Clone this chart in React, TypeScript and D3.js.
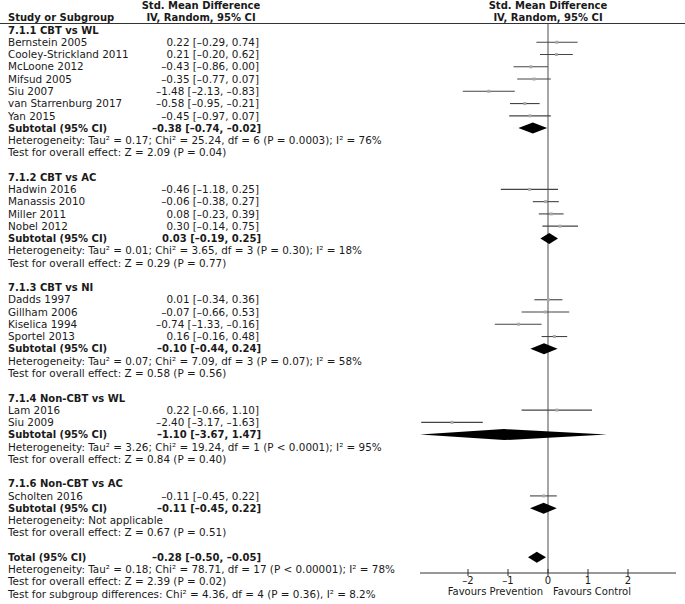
import React from "react";
import * as d3 from "d3";

const groupLabels = [
  "7.1.1 CBT vs WL",
  "7.1.2 CBT vs AC",
  "7.1.3 CBT vs NI",
  "7.1.4 Non-CBT vs WL",
  "7.1.6 Non-CBT vs AC",
];

const studyNames = [
  "Bernstein 2005", "Cooley-Strickland 2011", "McLoone 2012", "Mifsud 2005", "Siu 2007", "van Starrenburg 2017", "Yan 2015",
  "Hadwin 2016", "Manassis 2010", "Miller 2011", "Nobel 2012",
  "Dadds 1997", "Gillham 2006", "Kiselica 1994", "Sportel 2013",
  "Lam 2016", "Siu 2009",
  "Scholten 2016",
];
const studyGroup = [0, 0, 0, 0, 0, 0, 0, 1, 1, 1, 1, 2, 2, 2, 2, 3, 3, 4];
const studySmd = [0.22, 0.21, -0.43, -0.35, -1.48, -0.58, -0.45, -0.46, -0.06, 0.08, 0.30, 0.01, -0.07, -0.74, 0.16, 0.22, -2.40, -0.11];
const studyLow = [-0.29, -0.20, -0.86, -0.77, -2.13, -0.95, -0.97, -1.18, -0.38, -0.23, -0.14, -0.34, -0.66, -1.33, -0.16, -0.66, -3.17, -0.45];
const studyHigh = [0.74, 0.62, 0.00, 0.07, -0.83, -0.21, 0.07, 0.25, 0.27, 0.39, 0.75, 0.36, 0.53, -0.16, 0.48, 1.10, -1.63, 0.22];

const subtotalSmd = [-0.38, 0.03, -0.10, -1.10, -0.11];
const subtotalLow = [-0.74, -0.19, -0.44, -3.67, -0.45];
const subtotalHigh = [-0.02, 0.25, 0.24, 1.47, 0.22];

const heterogeneityText = [
  "Heterogeneity: Tau² = 0.17; Chi² = 25.24, df = 6 (P = 0.0003); I² = 76%",
  "Heterogeneity: Tau² = 0.01; Chi² = 3.65, df = 3 (P = 0.30); I² = 18%",
  "Heterogeneity: Tau² = 0.07; Chi² = 7.09, df = 3 (P = 0.07); I² = 58%",
  "Heterogeneity: Tau² = 3.26; Chi² = 19.24, df = 1 (P < 0.0001); I² = 95%",
  "Heterogeneity: Not applicable",
];
const overallEffectText = [
  "Test for overall effect: Z = 2.09 (P = 0.04)",
  "Test for overall effect: Z = 0.29 (P = 0.77)",
  "Test for overall effect: Z = 0.58 (P = 0.56)",
  "Test for overall effect: Z = 0.84 (P = 0.40)",
  "Test for overall effect: Z = 0.67 (P = 0.51)",
];

const totalSmd = -0.28;
const totalLow = -0.50;
const totalHigh = -0.05;
const totalNotes = [
  "Heterogeneity: Tau² = 0.18; Chi² = 78.71, df = 17 (P < 0.00001); I² = 78%",
  "Test for overall effect: Z = 2.39 (P = 0.02)",
  "Test for subgroup differences: Chi² = 4.36, df = 4 (P = 0.36), I² = 8.2%",
];

const axisTicks = [-2, -1, 0, 1, 2];
const axisDomain = [-3.2, 3.2];

const fmt = (v: number) => {
  const s = Math.abs(v).toFixed(2);
  return (v < 0 ? "–" : "") + s;
};
const ciText = (e: number, l: number, h: number) => `${fmt(e)} [${fmt(l)}, ${fmt(h)}]`;

type Row =
  | { kind: "group"; label: string }
  | { kind: "study"; i: number }
  | { kind: "subtotal"; g: number }
  | { kind: "note"; text: string }
  | { kind: "blank" }
  | { kind: "total" };

export default function App() {
  const W = 685;
  const H = 604;
  const font = "'DejaVu Sans', sans-serif";
  const fs = 10.4;
  const fsb = 10;

  const rows: Row[] = [];
  groupLabels.forEach((label, g) => {
    rows.push({ kind: "group", label });
    studyNames.forEach((_, i) => {
      if (studyGroup[i] === g) rows.push({ kind: "study", i });
    });
    rows.push({ kind: "subtotal", g });
    rows.push({ kind: "note", text: heterogeneityText[g] });
    rows.push({ kind: "note", text: overallEffectText[g] });
    rows.push({ kind: "blank" });
  });
  rows.push({ kind: "total" });
  totalNotes.forEach((t) => rows.push({ kind: "note", text: t }));

  const y0 = 30;
  const pitch = (594 - 30) / (rows.length - 1);
  const yAt = (k: number) => y0 + k * pitch;

  const x = d3.scaleLinear().domain(axisDomain).range([420, 676]);
  const clamp = (v: number) => Math.max(axisDomain[0], Math.min(axisDomain[1], v));
  const axisY = 573;
  const leftX = 8;
  const ciRight = 259;

  const diamond = (e: number, l: number, h: number, cy: number) => {
    const pts: [number, number][] = [
      [x(clamp(l)), cy],
      [x(e), cy - 5.5],
      [x(clamp(h)), cy],
      [x(e), cy + 5.5],
    ];
    return d3.line()(pts)! + "Z";
  };

  const elems: React.ReactNode[] = [];
  rows.forEach((r, k) => {
    const cy = yAt(k);
    const by = cy + 3.7;
    if (r.kind === "group") {
      elems.push(
        <text key={k} x={leftX} y={by} fontWeight="bold" fontSize={fsb}>{r.label}</text>
      );
    } else if (r.kind === "study") {
      const i = r.i;
      elems.push(
        <g key={k}>
          <text x={leftX} y={by}>{studyNames[i]}</text>
          <text x={ciRight} y={by} textAnchor="end">{ciText(studySmd[i], studyLow[i], studyHigh[i])}</text>
          <line x1={x(clamp(studyLow[i]))} x2={x(clamp(studyHigh[i]))} y1={cy} y2={cy} stroke="#444" strokeWidth={1.1} />
          <rect x={x(studySmd[i]) - 1.5} y={cy - 1.5} width={3} height={3} fill="#aaa" />
        </g>
      );
    } else if (r.kind === "subtotal") {
      const g = r.g;
      elems.push(
        <g key={k}>
          <text x={leftX} y={by} fontWeight="bold" fontSize={fsb}>Subtotal (95% CI)</text>
          <text x={ciRight + 2} y={by} textAnchor="end" fontWeight="bold" fontSize={fsb}>{ciText(subtotalSmd[g], subtotalLow[g], subtotalHigh[g])}</text>
          <path d={diamond(subtotalSmd[g], subtotalLow[g], subtotalHigh[g], cy)} fill="#000" />
        </g>
      );
    } else if (r.kind === "total") {
      elems.push(
        <g key={k}>
          <text x={leftX} y={by} fontWeight="bold" fontSize={fsb}>Total (95% CI)</text>
          <text x={ciRight + 2} y={by} textAnchor="end" fontWeight="bold" fontSize={fsb}>{ciText(totalSmd, totalLow, totalHigh)}</text>
          <path d={diamond(totalSmd, totalLow, totalHigh, cy)} fill="#000" />
        </g>
      );
    } else if (r.kind === "note") {
      elems.push(
        <text key={k} x={leftX} y={by}>{r.text}</text>
      );
    }
  });

  return (
    <svg
      width={W}
      height={H}
      style={{ position: "absolute", left: 0, top: 0, background: "#fff" }}
      fontFamily={font}
      fontSize={fs}
      fill="#1a1a1a"
    >
      <text x={201} y={9} textAnchor="middle" fontWeight="bold" fontSize={fsb}>Std. Mean Difference</text>
      <text x={201} y={21} textAnchor="middle" fontWeight="bold" fontSize={fsb}>IV, Random, 95% CI</text>
      <text x={leftX} y={21} fontWeight="bold" fontSize={fsb}>Study or Subgroup</text>
      <text x={x(0)} y={9} textAnchor="middle" fontWeight="bold" fontSize={fsb}>Std. Mean Difference</text>
      <text x={x(0)} y={21} textAnchor="middle" fontWeight="bold" fontSize={fsb}>IV, Random, 95% CI</text>
      <line x1={0} x2={W} y1={23.5} y2={23.5} stroke="#333" strokeWidth={1} />
      <line x1={x(0)} x2={x(0)} y1={24} y2={axisY} stroke="#888" strokeWidth={1.5} />
      {elems}
      <line x1={x(axisDomain[0])} x2={x(axisDomain[1])} y1={axisY} y2={axisY} stroke="#333" strokeWidth={1} />
      {axisTicks.map((t) => (
        <g key={t}>
          <line x1={x(t)} x2={x(t)} y1={axisY - 4} y2={axisY + 3} stroke="#333" strokeWidth={1} />
          <text x={x(t)} y={axisY + 11} textAnchor="middle" fontSize={10}>{t < 0 ? "–" + Math.abs(t) : String(t)}</text>
        </g>
      ))}
      <text x={x(0) - 5} y={axisY + 22} textAnchor="end" fontSize={10}>Favours Prevention</text>
      <text x={x(0) + 5} y={axisY + 22} fontSize={10}>Favours Control</text>
    </svg>
  );
}
